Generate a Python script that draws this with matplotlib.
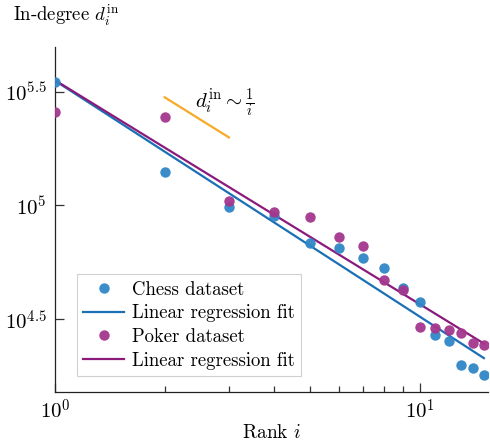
import numpy as np
import matplotlib
matplotlib.use("Agg")
from matplotlib import pyplot as plt
from matplotlib.ticker import FixedLocator, FixedFormatter, NullFormatter

plt.rcParams["font.family"] = "serif"
plt.rcParams["font.serif"] = ["cmr10"]
plt.rcParams["mathtext.fontset"] = "cm"
plt.rcParams["axes.formatter.use_mathtext"] = True
plt.rcParams["font.size"] = 13.5

# rank of each player, and log10 of the in-degree
rank = np.arange(1, 16)
chess_log_deg = [5.543, 5.148, 4.995, 4.954, 4.834, 4.814, 4.768, 4.724,
                 4.637, 4.578, 4.432, 4.403, 4.300, 4.286, 4.257]
poker_log_deg = [5.411, 5.387, 5.020, 4.970, 4.951, 4.863, 4.824, 4.673,
                 4.629, 4.468, 4.464, 4.454, 4.440, 4.398, 4.388]

# 1/i reference slope
ref_rank = [2, 3]
ref_log_const = 5.776

y_tick_exps = [4.5, 5, 5.5]
x_tick_labels = ["$10^0$", "$10^1$"]

chess_color = "#2f87c6"
chess_line = "#1a6fb5"
poker_color = "#a4378d"
poker_line = "#8a1a7b"
ref_color = "#f7a928"

fig = plt.figure(figsize=(4.9, 4.45), dpi=100)
ax = fig.add_axes([0.112, 0.12, 0.884, 0.775])

chess = 10 ** np.array(chess_log_deg)
poker = 10 ** np.array(poker_log_deg)
x_fit = np.array([1, 15])

ax.plot(rank, chess, "o", color=chess_color, ms=7.5, alpha=0.95,
        mec="none", label="Chess dataset", zorder=3)
k, b = np.polyfit(np.log10(rank), chess_log_deg, 1)
ax.plot(x_fit, 10 ** (b + k * np.log10(x_fit)), color=chess_line, lw=1.6,
        label="Linear regression fit", zorder=2)

ax.plot(rank, poker, "o", color=poker_color, ms=7.5, alpha=0.95,
        mec="none", label="Poker dataset", zorder=3)
k, b = np.polyfit(np.log10(rank), poker_log_deg, 1)
ax.plot(x_fit, 10 ** (b + k * np.log10(x_fit)), color=poker_line, lw=1.6,
        label="Linear regression fit", zorder=2)

ref_rank = np.array(ref_rank)
ax.plot(ref_rank, 10 ** ref_log_const / ref_rank, color=ref_color, lw=1.6)
ax.text(2.42, 10 ** 5.45, r"$d_i^{\rm in} \sim \frac{1}{i}$", fontsize=15,
        ha="left", va="center")

ax.set_xscale("log")
ax.set_yscale("log")
ax.set_xlim(1, 15.4)
ax.set_ylim(10 ** 4.183, 10 ** 5.697)

ax.xaxis.set_major_locator(FixedLocator([1, 10]))
ax.xaxis.set_major_formatter(FixedFormatter(x_tick_labels))
ax.xaxis.set_minor_locator(FixedLocator([2, 3, 4, 5, 6, 7, 8, 9]))
ax.xaxis.set_minor_formatter(NullFormatter())
y_ticks = [10 ** e for e in y_tick_exps]
ax.yaxis.set_major_locator(FixedLocator(y_ticks))
ax.yaxis.set_major_formatter(FixedFormatter(["$10^{%g}$" % e for e in y_tick_exps]))
ax.yaxis.set_minor_locator(FixedLocator([]))

ax.tick_params(which="both", direction="in", labelsize=15, color="#333333")
ax.tick_params(which="major", length=6.5, width=0.9)
ax.tick_params(which="minor", length=4.3, width=0.9)
ax.tick_params(axis="x", pad=5)
ax.tick_params(axis="y", pad=6)

for side in ["top", "right"]:
    ax.spines[side].set_visible(False)
for side in ["left", "bottom"]:
    ax.spines[side].set_color("#222222")
    ax.spines[side].set_linewidth(0.9)

ax.set_xlabel("Rank $i$", fontsize=14, labelpad=1)
ax.set_ylabel(r"In-degree $d_i^{\rm in}$", fontsize=13.5, rotation=0,
              ha="left", va="center")
ax.yaxis.set_label_coords(-0.097, 1.092)

leg = ax.legend(loc="lower left", bbox_to_anchor=(0.05, 0.045), fancybox=False,
                framealpha=1, edgecolor="#d0d0d0", borderpad=0.35,
                handlelength=2.2, handletextpad=0.4, labelspacing=0.3,
                borderaxespad=0)
leg.get_frame().set_linewidth(0.8)

fig.savefig("out.png", dpi=100)
